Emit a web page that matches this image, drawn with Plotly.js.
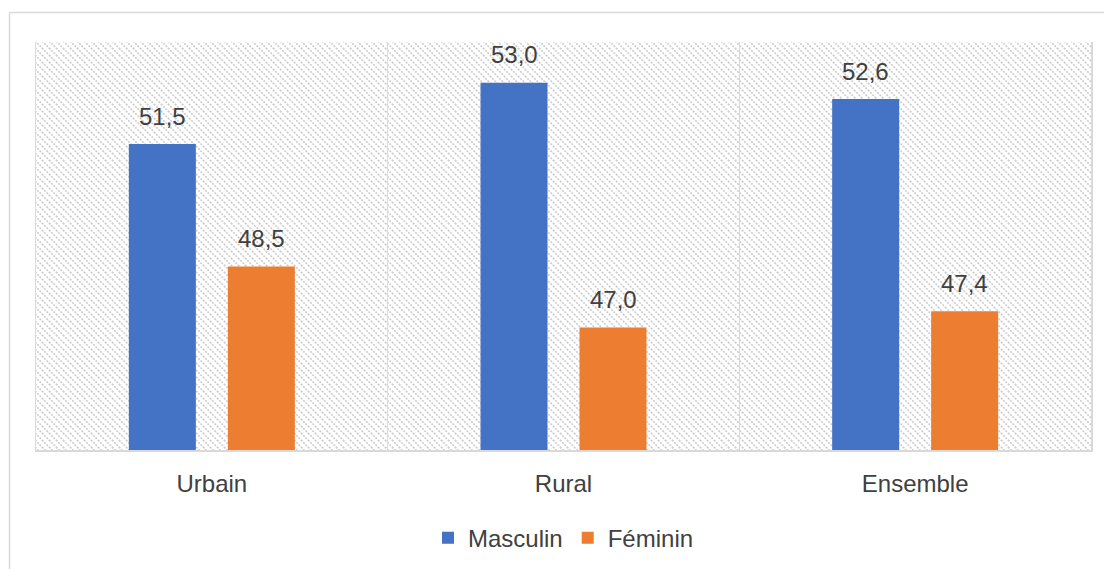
<!DOCTYPE html>
<html>
<head>
<meta charset="utf-8">
<script src="https://cdn.plot.ly/plotly-3.0.1.min.js"></script>
<style>html,body{margin:0;padding:0;background:#fff;}#chart{width:1104px;height:569px;}</style>
</head>
<body>
<div id="chart"></div>
<script>
const categories = ["Urbain", "Rural", "Ensemble"];
const masculin = [51.5, 53.0, 52.6];
const feminin = [48.5, 47.0, 47.4];
const seriesNames = ["Masculin", "Féminin"];

const W = 1055, H = 408;
const svg = `<svg xmlns="http://www.w3.org/2000/svg" width="${W}" height="${H}"><defs><pattern id="p" width="7" height="7" patternUnits="userSpaceOnUse"><path d="M-1,-1 L8,8 M-1,6 L1,8 M6,-1 L8,1" stroke="#cdcdcd" stroke-width="1.6" stroke-dasharray="2,1.2"/></pattern></defs><rect width="${W}" height="${H}" fill="url(#p)"/></svg>`;
const bg = "data:image/svg+xml;base64," + btoa(svg);

const font = {family: "Liberation Sans, Arial, sans-serif", size: 24, color: "#404040"};

const traces = [
  {type: "bar", name: seriesNames[0], x: categories, y: masculin, marker: {color: "#4472C4"}, hoverinfo: "none"},
  {type: "bar", name: seriesNames[1], x: categories, y: feminin, marker: {color: "#ED7D31"}, hoverinfo: "none"}
];

// Data labels built from the series arrays, positioned by the axes
const fmt = v => v.toFixed(1).replace(".", ",");
const annotations = [];
categories.forEach((c, i) => {
  annotations.push({x: c, y: masculin[i], xref: "x", yref: "y", text: fmt(masculin[i]), showarrow: false,
    xshift: -49.5, yshift: 28, yanchor: "middle", font: font});
  annotations.push({x: c, y: feminin[i], xref: "x", yref: "y", text: fmt(feminin[i]), showarrow: false,
    xshift: 49.5, yshift: 28, yanchor: "middle", font: font});
});

const layout = {
  width: 1104, height: 569,
  margin: {l: 36, r: 13, t: 42, b: 119},
  paper_bgcolor: "#ffffff", plot_bgcolor: "rgba(0,0,0,0)",
  separators: ", ",
  font: font,
  barmode: "group", bargap: 0.437, bargroupgap: 0.323,
  showlegend: true,
  legend: {orientation: "h", x: 0.5, xanchor: "center", yref: "container", y: 0.054, yanchor: "middle", font: font, traceorder: "normal", itemwidth: 30},
  xaxis: {type: "category", tickson: "boundaries", showgrid: true, gridcolor: "#d9d9d9", gridwidth: 1.5,
          showline: true, linecolor: "#d9d9d9", linewidth: 1.5, ticks: "", ticklabelstandoff: 12, tickfont: font, zeroline: false, automargin: false},
  yaxis: {range: [44, 54], showgrid: false, showticklabels: false, ticks: "", zeroline: false,
          showline: true, mirror: true, linecolor: "#d9d9d9", linewidth: 1.5, automargin: false},
  annotations: annotations,
  images: [{source: bg, xref: "paper", yref: "paper", x: 0, y: 1, sizex: 1, sizey: 1,
            xanchor: "left", yanchor: "top", sizing: "stretch", layer: "below"}],
  shapes: [
    {type: "line", xref: "paper", yref: "paper", x0: -0.0251, x1: -0.0251, y0: 1.0725, y1: -0.3, line: {color: "#d9d9d9", width: 1.5}},
    {type: "line", xref: "paper", yref: "paper", x0: -0.0251, x1: 1.02, y0: 1.0725, y1: 1.0725, line: {color: "#d9d9d9", width: 1.5}}
  ]
};

Plotly.newPlot("chart", traces, layout, {displayModeBar: false, staticPlot: true});
</script>
</body>
</html>
